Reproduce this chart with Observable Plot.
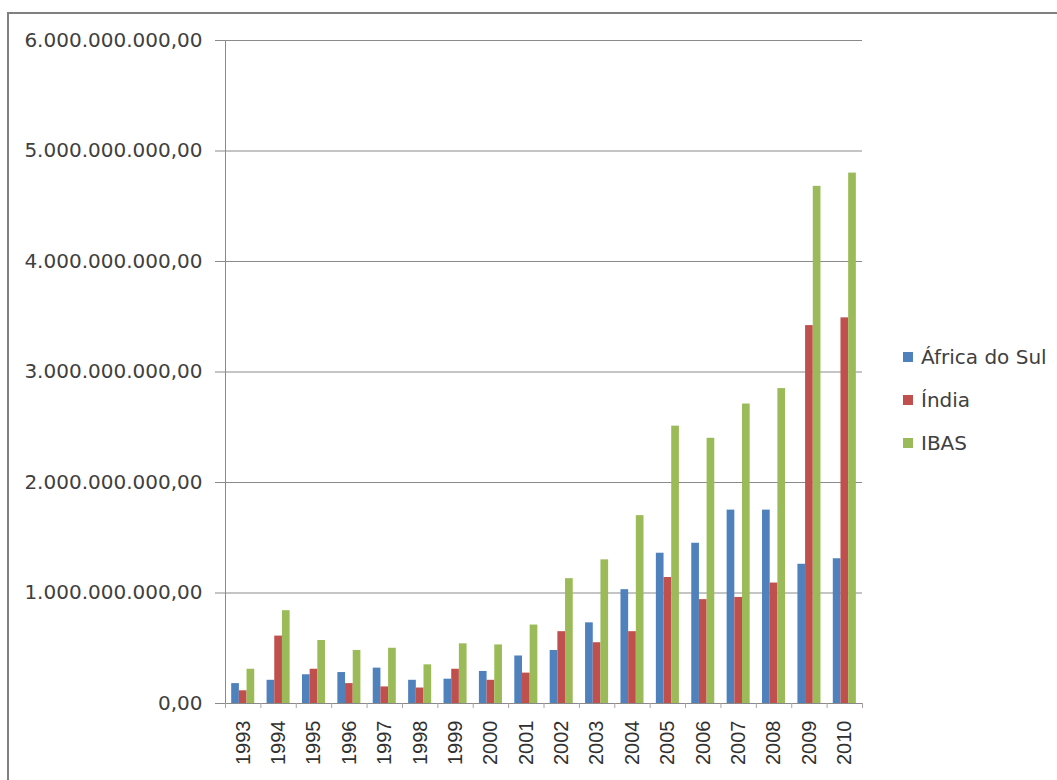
<!DOCTYPE html>
<html>
<head>
<meta charset="utf-8">
<script src="https://cdn.jsdelivr.net/npm/d3@7"></script>
<script src="https://cdn.jsdelivr.net/npm/@observablehq/plot@0.6"></script>
<style>
  html, body { margin: 0; padding: 0; background: #fff; overflow: hidden; }
  #wrap { position: relative; width: 1057px; height: 780px; }
  #chart { position: absolute; left: 0; top: 0; }
  #frame { position: absolute; left: 7px; top: 12px; width: 1200px; height: 900px;
           border-left: 2px solid #808080; border-top: 2px solid #808080; z-index: 5; pointer-events: none; }
  #legend { position: absolute; left: 903px; top: 0; font-family: "DejaVu Sans", sans-serif; font-size: 20px; color: #404040; z-index: 6; }
  .item { position: absolute; left: 0; white-space: nowrap; display: flex; align-items: center; height: 24px; }
  .sw { width: 10px; height: 10px; margin-right: 8px; display: inline-block; }
</style>
</head>
<body>
<div id="wrap">
  <div id="chart"></div>
  <div id="frame"></div>
  <div id="legend"></div>
</div>
<script>
// ---- data ----
const years = [1993,1994,1995,1996,1997,1998,1999,2000,2001,2002,2003,2004,2005,2006,2007,2008,2009,2010];
const series = ["África do Sul", "Índia", "IBAS"];
const africaDoSul = [0.18e9,0.21e9,0.26e9,0.28e9,0.32e9,0.21e9,0.22e9,0.29e9,0.43e9,0.48e9,0.73e9,1.03e9,1.36e9,1.45e9,1.75e9,1.75e9,1.26e9,1.31e9];
const india       = [0.115e9,0.61e9,0.31e9,0.18e9,0.15e9,0.14e9,0.31e9,0.21e9,0.275e9,0.65e9,0.55e9,0.65e9,1.14e9,0.94e9,0.96e9,1.09e9,3.42e9,3.49e9];
const ibas        = [0.31e9,0.84e9,0.57e9,0.48e9,0.50e9,0.35e9,0.54e9,0.53e9,0.71e9,1.13e9,1.30e9,1.70e9,2.51e9,2.40e9,2.71e9,2.85e9,4.68e9,4.80e9];
const yTicks = [0, 1e9, 2e9, 3e9, 4e9, 5e9, 6e9];
const colors = ["#4F81BD", "#C0504D", "#9BBB59"];

// ---- table ----
const valuesBySeries = [africaDoSul, india, ibas];
const rows = [];
years.forEach((yr, j) => {
  series.forEach((s, i) => rows.push({year: yr, series: s, i, value: valuesBySeries[i][j]}));
});

// bar layout within each year slot (in year units)
const groupPad = 0.175, barW = 0.217;

const ptBR = d3.formatLocale({decimal: ",", thousands: ".", grouping: [3], currency: ["", ""]});
const fmt = ptBR.format(",.2f");

const boundaries = d3.range(years[0] - 0.5, years[years.length - 1] + 1, 1);

const plot = Plot.plot({
  width: 1057,
  height: 780,
  marginLeft: 225,
  marginRight: 195,
  marginTop: 40,
  marginBottom: 77,
  style: {fontFamily: "DejaVu Sans, sans-serif", background: "transparent", color: "#404040"},
  x: {domain: [years[0] - 0.5, years[years.length - 1] + 0.5]},
  y: {domain: [0, 6e9]},
  color: {domain: series, range: colors},
  marks: [
    Plot.gridY({ticks: yTicks, stroke: "#8a8a8a", strokeOpacity: 1, strokeWidth: 1}),
    Plot.ruleX([years[0] - 0.5], {y1: 0, y2: 6e9, stroke: "#8a8a8a", strokeWidth: 1}),
    Plot.rectY(rows, {
      x1: d => d.year - 0.5 + groupPad + d.i * barW,
      x2: d => d.year - 0.5 + groupPad + (d.i + 1) * barW,
      y: "value",
      fill: "series"
    }),
    Plot.axisY({ticks: yTicks, tickFormat: fmt, tickSize: 10, tickPadding: 13, fontSize: 20,
                stroke: "#8a8a8a", fill: "#404040", label: null}),
    Plot.axisX({ticks: boundaries, tickFormat: () => "", tickSize: 5, stroke: "#b0a0a0", label: null}),
    Plot.axisX({ticks: years, tickFormat: d => String(d), tickSize: 0, tickPadding: 17, tickRotate: -90,
                fontSize: 20, fontFamily: "Liberation Sans, sans-serif", fill: "#303030", label: null})
  ]
});
document.getElementById("chart").appendChild(plot);

// ---- legend ----
const legend = document.getElementById("legend");
const legendCenters = [357, 400, 443];
series.forEach((s, i) => {
  const it = document.createElement("div");
  it.className = "item";
  it.style.top = (legendCenters[i] - 12) + "px";
  it.innerHTML = `<span class="sw" style="background:${colors[i]}"></span><span>${s}</span>`;
  legend.appendChild(it);
});
</script>
</body>
</html>
